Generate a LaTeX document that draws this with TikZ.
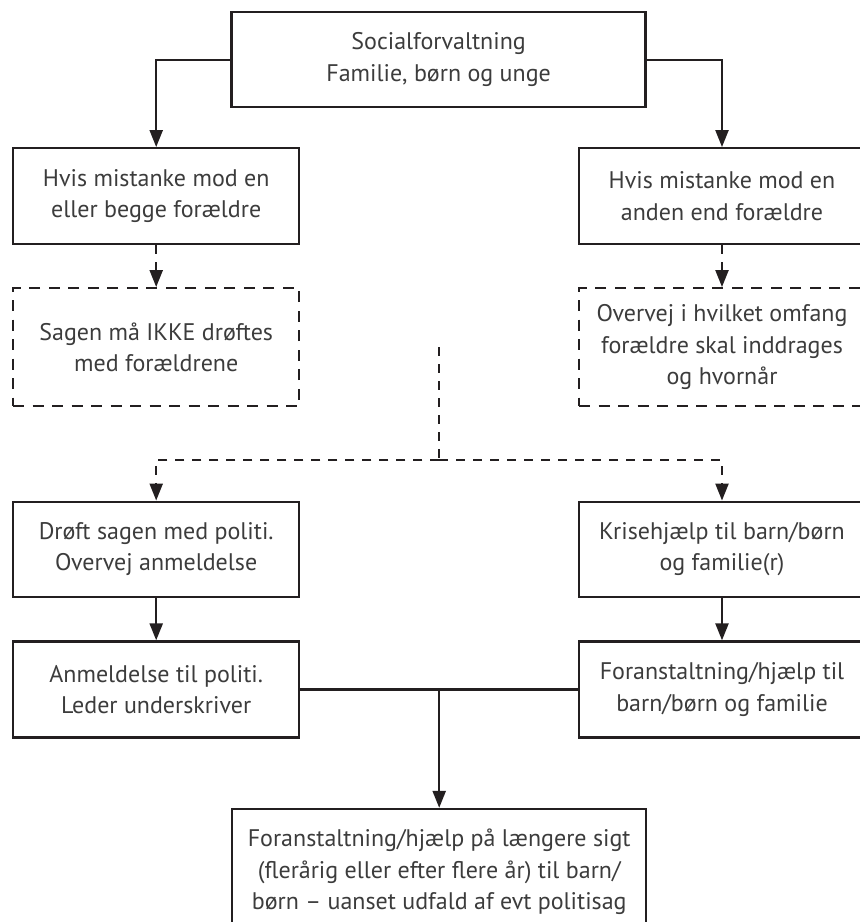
\documentclass[tikz,border=0pt]{standalone}
\usepackage{fontspec}
\setmainfont{PT Sans}
\usetikzlibrary{arrows.meta}
\definecolor{inkgray}{RGB}{35,31,32}
\definecolor{textgray}{RGB}{60,60,60}

\begin{document}
\begin{tikzpicture}[x=1pt, y=-1pt,
    box/.style={draw=inkgray, line width=2.3pt, minimum width=286pt, minimum height=96pt,
      inner sep=0pt, align=center, text=textgray, font=\fontsize{24}{31.5}\selectfont},
    dashbox/.style={box, dash pattern=on 11pt off 8.5pt, minimum height=118pt},
    widebox/.style={box, minimum width=414pt},
    link/.style={draw=inkgray, line width=2.3pt, -{Triangle[length=17pt,width=13pt]}},
    dashlink/.style={link, dash pattern=on 9pt off 8pt}]
    \useasboundingbox (0,0) rectangle (860,922);

    % Top box
    \node[widebox, minimum height=95pt] (S) at (438.6,59.7) {Socialforvaltning\\Familie, børn og unge};

    % Suspicion boxes
    \node[box] (H1) at (156.2,196.2) {Hvis mistanke mod en\\eller begge forældre};
    \node[box] (H2) at (722,196.2) {Hvis mistanke mod en\\anden end forældre};

    % Dashed boxes
    \node[dashbox] (D1) at (156.2,347.2) {Sagen må IKKE drøftes\\med forældrene};
    \node[dashbox] (D2) at (722,347.2) {Overvej i hvilket omfang\\forældre skal inddrages\\og hvornår};

    % Second row
    \node[box, minimum height=95pt] (P1) at (156.2,549.2) {Drøft sagen med politi.\\Overvej anmeldelse};
    \node[box, minimum height=95pt] (P2) at (722,549.2) {Krisehjælp til barn/børn\\og familie(r)};

    % Third row
    \node[box] (A1) at (156.2,689.5) {Anmeldelse til politi.\\Leder underskriver};
    \node[box] (A2) at (722,689.5) {Foranstaltning/hjælp til\\barn/børn og familie};

    % Bottom box
    \node[widebox, minimum height=126pt] (F) at (439.2,872) {Foranstaltning/hjælp på længere sigt\\(flerårig eller efter flere år) til barn/\\børn -- uanset udfald af evt politisag};

    % Junctions
    \coordinate (M) at (439.3,347.2);
    \coordinate (J) at (439.3,460);
    \coordinate (T) at (F.north |- A1.east);

    % Draw edges
    \draw[link] (S.west) -| (H1.north);
    \draw[link] (S.east) -| (H2.north);
    \draw[dashlink] (H1.south) -- (D1.north);
    \draw[dashlink] (H2.south) -- (D2.north);
    \draw[draw=inkgray, line width=2.3pt, dash pattern=on 9pt off 8pt] (M) -- (J);
    \draw[dashlink] (J) -| (P1.north);
    \draw[dashlink] (J) -| (P2.north);
    \draw[link] (P1.south) -- (A1.north);
    \draw[link] (P2.south) -- (A2.north);
    \draw[draw=inkgray, line width=2.3pt] (A1.east) -- (A2.west);
    \draw[link] (T) -- (F.north);
\end{tikzpicture}
\end{document}
